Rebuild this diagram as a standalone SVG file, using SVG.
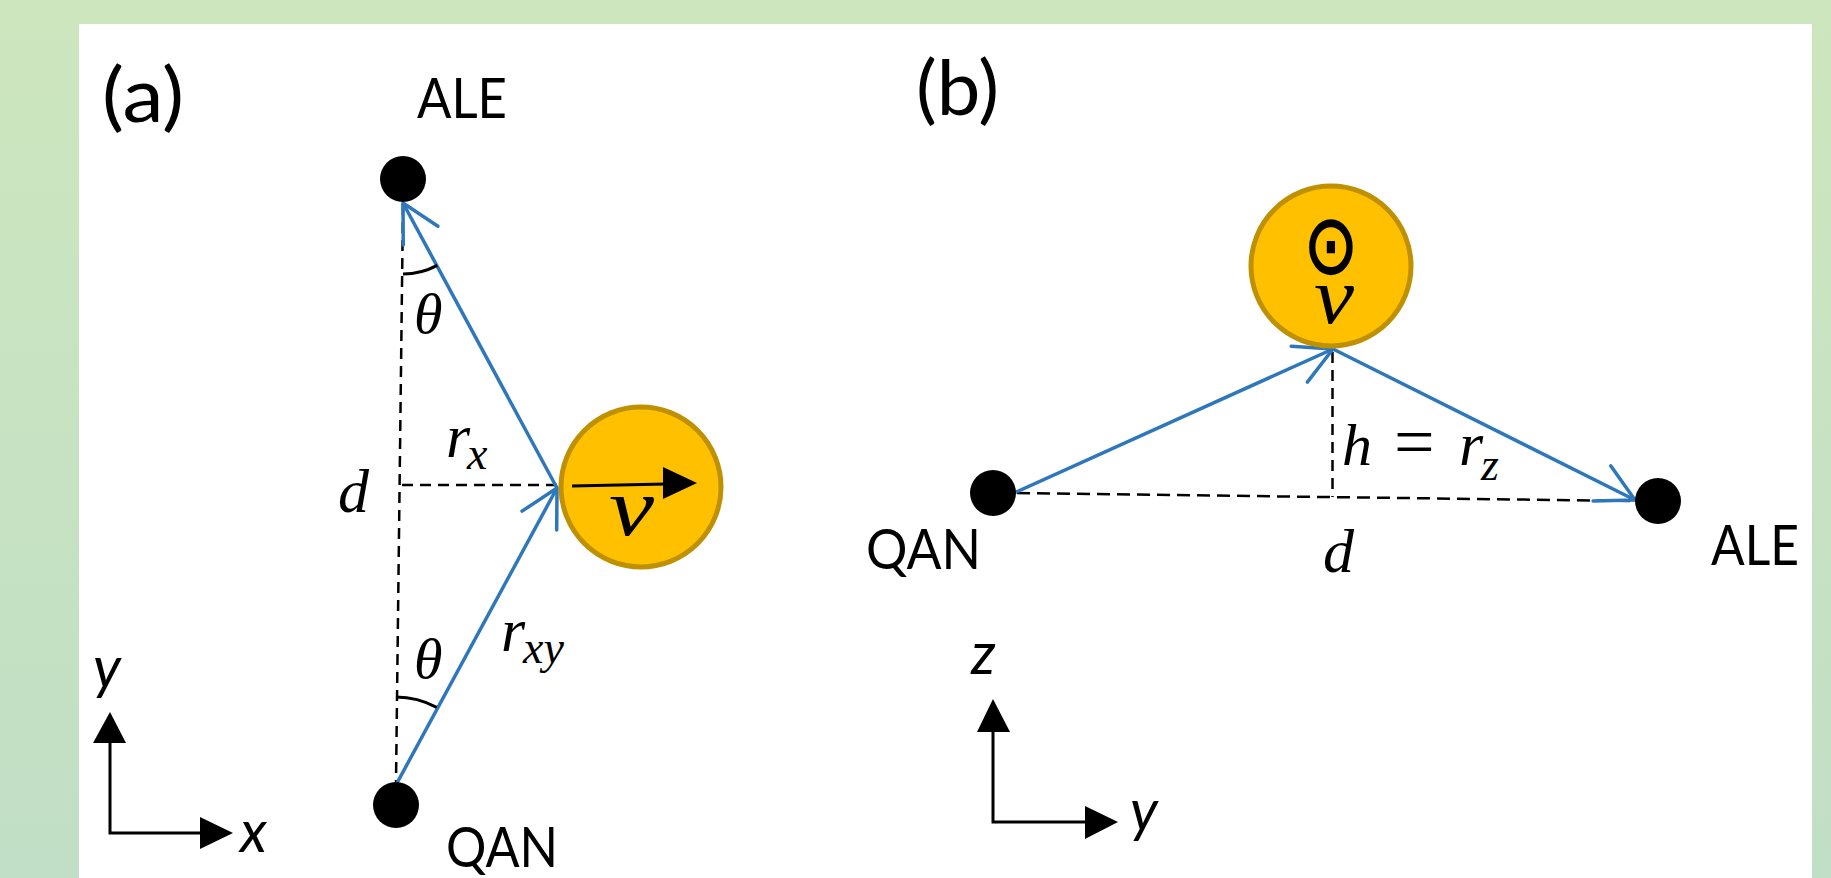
<svg xmlns="http://www.w3.org/2000/svg" width="1831" height="878" viewBox="0 0 1831 878">
<style>
.lbl{font-family:Lato,"Open Sans","Liberation Sans",sans-serif;font-size:56px;fill:#000}
.ax{font-family:Lato,"Open Sans","Liberation Sans",sans-serif;font-style:italic;font-size:58px;fill:#000}
.m{font-family:"Liberation Serif","DejaVu Serif",serif;font-style:italic;font-size:62px;fill:#000}
.ms{font-family:"Liberation Serif","DejaVu Serif",serif;font-style:italic;font-size:46px;fill:#000}
.dash{stroke:#000;stroke-width:2.5;stroke-dasharray:11 7;fill:none}
.blue{stroke:#2F77BB;stroke-width:3.5;fill:none;marker-end:url(#va)}
.dot{fill:#000}
.ball{fill:#FFC000;stroke:#BF9000;stroke-width:5}
.axis{stroke:#000;stroke-width:3;fill:none}
.arc{stroke:#000;stroke-width:3;fill:none}
</style>
<defs>
<linearGradient id="bg" x1="0" y1="0" x2="0" y2="1">
<stop offset="0" stop-color="#CDE6BE"/>
<stop offset="1" stop-color="#C1DFC6"/>
</linearGradient>
<marker id="va" markerUnits="userSpaceOnUse" markerWidth="60" markerHeight="60" viewBox="-50 -30 60 60" refX="0" refY="0" orient="auto">
<path d="M-37,-19.7 L0,0 L-37,19.7" fill="none" stroke="#2F77BB" stroke-width="3.5" stroke-linejoin="round" stroke-linecap="round"/>
</marker>
</defs>
<rect x="0" y="0" width="1831" height="878" fill="url(#bg)"/>
<rect x="79" y="24" width="1733" height="854" fill="#FFFFFF"/>

<g id="panel-a-label"><text class="lbl" x="102" y="122" style="font-size:75px" textLength="82" lengthAdjust="spacingAndGlyphs">(a)</text></g>
<g id="panel-b-label"><text class="lbl" x="916" y="115" style="font-size:75px" textLength="83" lengthAdjust="spacingAndGlyphs">(b)</text></g>

<g id="connectors">
<!-- panel a -->
<line class="dash" x1="403" y1="204" x2="396" y2="782"/>
<line class="dash" x1="402" y1="485" x2="557" y2="485"/>
<line class="blue" x1="397" y1="783" x2="557" y2="488"/>
<line class="blue" x1="557" y1="488" x2="403" y2="203"/>
<path class="arc" d="M403,274 A72,72 0 0 0 437.2,265.4"/>
<path class="arc" d="M396,697 A85,85 0 0 1 436.7,707.4"/>
<!-- panel b -->
<line class="dash" x1="1017" y1="493" x2="1632" y2="501" style="stroke-dasharray:13 7"/>
<line class="dash" x1="1332.5" y1="352" x2="1332.5" y2="497"/>
<line class="blue" x1="1014" y1="493" x2="1333" y2="349"/>
<line class="blue" x1="1333" y1="349" x2="1635" y2="500"/>
</g>

<g id="ale-a">
<circle class="dot" cx="403" cy="179" r="23"/>
<text class="lbl" x="417" y="118" textLength="90" lengthAdjust="spacingAndGlyphs">ALE</text>
</g>
<g id="qan-a">
<circle class="dot" cx="396" cy="805" r="23"/>
<text class="lbl" x="446" y="867" textLength="112" lengthAdjust="spacingAndGlyphs">QAN</text>
</g>
<g id="ball-a">
<circle class="ball" cx="641" cy="487" r="80"/>
<line x1="572" y1="486" x2="666" y2="484" stroke="#000" stroke-width="3"/>
<polygon points="663,467 697,483 663,499" fill="#000"/>
<text class="m" x="609" y="535" style="font-size:82px" textLength="45" lengthAdjust="spacingAndGlyphs">v</text>
</g>
<g id="labels-a">
<text class="m" x="338" y="512">d</text>
<text class="m" x="414" y="333" style="font-size:58px">θ</text>
<text class="m" x="414" y="678" style="font-size:58px">θ</text>
<text class="m" x="446" y="457">r</text>
<text class="ms" x="467" y="469">x</text>
<text class="m" x="501" y="651">r</text>
<text class="ms" x="523" y="663">xy</text>
</g>
<g id="axes-a">
<polyline class="axis" points="110,743 110,833 200,833"/>
<polygon points="93,743 126,743 110,712" fill="#000"/>
<polygon points="200,817 200,849 233,833" fill="#000"/>
<text class="ax" x="93" y="688">y</text>
<text class="ax" x="240" y="852">x</text>
</g>

<g id="qan-b">
<circle class="dot" cx="993" cy="493" r="23"/>
<text class="lbl" x="866" y="569" textLength="115" lengthAdjust="spacingAndGlyphs">QAN</text>
</g>
<g id="ale-b">
<circle class="dot" cx="1658" cy="501" r="23"/>
<text class="lbl" x="1711" y="565" textLength="88" lengthAdjust="spacingAndGlyphs">ALE</text>
</g>
<g id="ball-b">
<circle class="ball" cx="1331" cy="266" r="80"/>
<text x="0" y="0" font-family="'DejaVu Sans',sans-serif" font-size="64" text-anchor="middle" stroke="#000" stroke-width="1.6" transform="translate(1331,273) scale(1,1.28)">⊙</text>
<text class="m" x="1314" y="323" style="font-size:80px" textLength="40" lengthAdjust="spacingAndGlyphs">v</text>
</g>
<g id="labels-b">
<text class="m" x="1342" y="465" style="font-size:60px">h</text>
<text x="1394" y="466" font-family="'Liberation Serif',serif" font-size="72">=</text>
<text class="m" x="1459" y="465">r</text>
<text class="ms" x="1481" y="480">z</text>
<text class="m" x="1323" y="572">d</text>
</g>
<g id="axes-b">
<polyline class="axis" points="993,732 993,822 1085,822"/>
<polygon points="977,732 1010,732 993,699" fill="#000"/>
<polygon points="1085,806 1085,839 1118,822" fill="#000"/>
<text class="ax" x="971" y="674">z</text>
<text class="ax" x="1130" y="831">y</text>
</g>
</svg>
